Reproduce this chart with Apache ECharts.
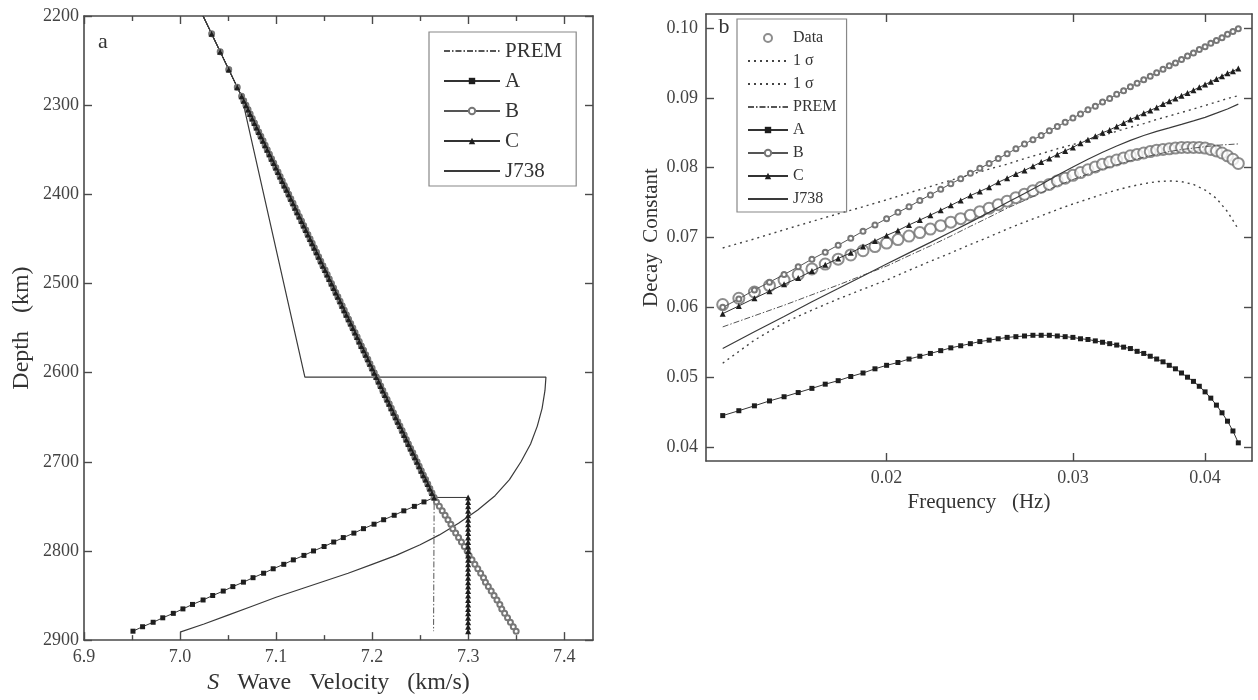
<!DOCTYPE html>
<html><head><meta charset="utf-8">
<script src="https://cdn.jsdelivr.net/npm/echarts@6/dist/echarts.min.js"></script>
<style>html,body{margin:0;padding:0;background:#fff}#c{width:1258px;height:700px}</style>
</head><body><div id="c"></div>
<script>
// ================= Panel a : S velocity vs depth =================
const velTicks = [6.9, 7.0, 7.1, 7.2, 7.3, 7.4];
const velMinorTicks = [6.95, 7.05, 7.15, 7.25, 7.35];
const topDepth = [2200, 2220, 2240, 2260, 2280];
const topVel = [7.024, 7.0329, 7.0418, 7.0507, 7.0596];
const mainDepth = [2290,2295,2300,2305,2310,2315,2320,2325,2330,2335,2340,2345,2350,2355,2360,2365,2370,2375,2380,2385,2390,2395,2400,2405,2410,2415,2420,2425,2430,2435,2440,2445,2450,2455,2460,2465,2470,2475,2480,2485,2490,2495,2500,2505,2510,2515,2520,2525,2530,2535,2540,2545,2550,2555,2560,2565,2570,2575,2580,2585,2590,2595,2600,2605,2610,2615,2620,2625,2630,2635,2640,2645,2650,2655,2660,2665,2670,2675,2680,2685,2690,2695,2700,2705,2710,2715,2720,2725,2730,2735,2740];
const mainVel = [7.0641,7.0663,7.0686,7.0708,7.0730,7.0752,7.0775,7.0797,7.0819,7.0841,7.0864,7.0886,7.0908,7.0931,7.0953,7.0975,7.0997,7.1020,7.1042,7.1064,7.1086,7.1109,7.1131,7.1153,7.1176,7.1198,7.1220,7.1242,7.1265,7.1287,7.1309,7.1331,7.1354,7.1376,7.1398,7.1421,7.1443,7.1465,7.1487,7.1510,7.1532,7.1554,7.1577,7.1599,7.1621,7.1643,7.1666,7.1688,7.1710,7.1732,7.1755,7.1777,7.1799,7.1822,7.1844,7.1866,7.1888,7.1911,7.1933,7.1955,7.1977,7.2000,7.2022,7.2044,7.2067,7.2089,7.2111,7.2133,7.2156,7.2178,7.2200,7.2222,7.2245,7.2267,7.2289,7.2312,7.2334,7.2356,7.2378,7.2401,7.2423,7.2445,7.2468,7.2490,7.2512,7.2534,7.2557,7.2579,7.2601,7.2623,7.2646];
const lowDepth = [2745,2750,2755,2760,2765,2770,2775,2780,2785,2790,2795,2800,2805,2810,2815,2820,2825,2830,2835,2840,2845,2850,2855,2860,2865,2870,2875,2880,2885,2890];
const lowA = [7.254,7.244,7.233,7.223,7.212,7.202,7.191,7.181,7.170,7.160,7.150,7.139,7.129,7.118,7.108,7.097,7.087,7.076,7.066,7.055,7.045,7.034,7.024,7.013,7.003,6.993,6.982,6.972,6.961,6.951];
const lowB = [7.267,7.270,7.273,7.276,7.279,7.282,7.284,7.287,7.290,7.293,7.296,7.299,7.301,7.304,7.307,7.310,7.313,7.316,7.318,7.321,7.324,7.327,7.330,7.333,7.335,7.338,7.341,7.344,7.347,7.350];
const cDepth = [2740,2745,2750,2755,2760,2765,2770,2775,2780,2785,2790,2795,2800,2805,2810,2815,2820,2825,2830,2835,2840,2845,2850,2855,2860,2865,2870,2875,2880,2885,2890];
const cVel = [7.300,7.300,7.300,7.300,7.300,7.300,7.300,7.300,7.300,7.300,7.300,7.300,7.300,7.300,7.300,7.300,7.300,7.300,7.300,7.300,7.300,7.300,7.300,7.300,7.300,7.300,7.300,7.300,7.300,7.300,7.300];
const premDepth = [2200, 2740, 2890];
const premVel = [7.024, 7.2646, 7.264];
const j738Depth = [2200,2290,2605,2605,2620,2640,2660,2680,2700,2720,2738,2754,2769,2782,2793,2805,2815,2825,2834,2843,2852,2862,2872,2882,2891];
const j738Vel = [7.024,7.0641,7.130,7.381,7.380,7.377,7.372,7.365,7.355,7.343,7.328,7.310,7.290,7.270,7.250,7.225,7.200,7.175,7.150,7.125,7.100,7.075,7.050,7.025,7.000];

// ================= Panel b : decay constant vs frequency =================
const freqTicks = [0.02, 0.03, 0.04];
const decayTicks = [0.04, 0.05, 0.06, 0.07, 0.08, 0.09, 0.10];
const freq = [0.0140,0.0145,0.0150,0.0155,0.0160,0.0165,0.0170,0.0175,0.0180,0.0185,0.0190,0.0195,0.0200,0.0205,0.0210,0.0215,0.0220,0.0225,0.0230,0.0235,0.0240,0.0245,0.0250,0.0255,0.0260,0.0265,0.0270,0.0275,0.0280,0.0285,0.0290,0.0295,0.0300,0.0305,0.0310,0.0315,0.0320,0.0325,0.0330,0.0335,0.0340,0.0345,0.0350,0.0355,0.0360,0.0365,0.0370,0.0375,0.0380,0.0385,0.0390,0.0395,0.0400,0.0405,0.0410,0.0415,0.0420,0.0425,0.0430];
const obsData = [0.0604,0.0613,0.0622,0.0631,0.0639,0.0647,0.0655,0.0662,0.0669,0.0675,0.0681,0.0687,0.0692,0.0697,0.0702,0.0707,0.0712,0.0717,0.0722,0.0727,0.0732,0.0737,0.0742,0.0747,0.0752,0.0757,0.0762,0.0767,0.0772,0.0776,0.0781,0.0785,0.0789,0.0793,0.0797,0.0801,0.0805,0.0808,0.0811,0.0814,0.0817,0.0819,0.0821,0.0823,0.0825,0.0826,0.0827,0.0828,0.0829,0.0829,0.0829,0.0829,0.0828,0.0826,0.0824,0.0821,0.0817,0.0812,0.0806];
const modelA = [0.0445,0.0452,0.0459,0.0466,0.0472,0.0478,0.0484,0.0490,0.0495,0.0501,0.0506,0.0512,0.0517,0.0521,0.0526,0.0530,0.0534,0.0538,0.0542,0.0545,0.0548,0.0551,0.0553,0.0555,0.0557,0.0558,0.0559,0.0560,0.0560,0.0560,0.0559,0.0558,0.0557,0.0555,0.0554,0.0552,0.0550,0.0548,0.0546,0.0543,0.0541,0.0537,0.0534,0.0530,0.0526,0.0522,0.0517,0.0512,0.0506,0.0500,0.0494,0.0487,0.0479,0.0470,0.0460,0.0449,0.0437,0.0423,0.0406];
const modelB = [0.0600,0.0612,0.0625,0.0636,0.0647,0.0658,0.0669,0.0679,0.0689,0.0699,0.0709,0.0718,0.0727,0.0736,0.0744,0.0753,0.0761,0.0769,0.0777,0.0784,0.0792,0.0799,0.0806,0.0813,0.0820,0.0827,0.0834,0.0840,0.0846,0.0853,0.0859,0.0865,0.0871,0.0877,0.0883,0.0888,0.0894,0.0899,0.0905,0.0910,0.0916,0.0921,0.0926,0.0931,0.0936,0.0941,0.0946,0.0950,0.0955,0.0960,0.0964,0.0969,0.0973,0.0978,0.0982,0.0986,0.0991,0.0995,0.0999];
const modelC = [0.0591,0.0602,0.0613,0.0623,0.0633,0.0642,0.0652,0.0661,0.0670,0.0678,0.0687,0.0695,0.0703,0.0710,0.0718,0.0725,0.0732,0.0739,0.0746,0.0753,0.0760,0.0766,0.0772,0.0779,0.0785,0.0791,0.0796,0.0802,0.0808,0.0813,0.0819,0.0824,0.0829,0.0835,0.0840,0.0845,0.0850,0.0854,0.0859,0.0864,0.0869,0.0873,0.0878,0.0882,0.0886,0.0891,0.0895,0.0899,0.0903,0.0907,0.0911,0.0915,0.0919,0.0923,0.0927,0.0931,0.0935,0.0938,0.0942];
const freqLine = [0.014,0.015,0.016,0.017,0.018,0.019,0.020,0.021,0.022,0.023,0.024,0.025,0.026,0.027,0.028,0.029,0.030,0.031,0.032,0.033,0.034,0.035,0.036,0.037,0.038,0.039,0.040,0.041,0.042,0.043];
const sigmaUpper = [0.0685,0.0698,0.0711,0.0723,0.0734,0.0744,0.0754,0.0764,0.0773,0.0782,0.0790,0.0798,0.0805,0.0813,0.0820,0.0827,0.0833,0.0840,0.0846,0.0852,0.0858,0.0863,0.0869,0.0874,0.0879,0.0884,0.0889,0.0894,0.0899,0.0903];
const sigmaLower = [0.0520,0.0553,0.0578,0.0596,0.0612,0.0626,0.0639,0.0653,0.0666,0.0678,0.0690,0.0701,0.0712,0.0722,0.0731,0.0740,0.0748,0.0755,0.0762,0.0768,0.0773,0.0777,0.0780,0.0781,0.0780,0.0776,0.0768,0.0756,0.0737,0.0712];
const premDecay = [0.0572,0.0588,0.0603,0.0618,0.0632,0.0646,0.0659,0.0674,0.0688,0.0702,0.0716,0.0729,0.0742,0.0753,0.0764,0.0774,0.0783,0.0791,0.0798,0.0804,0.0810,0.0815,0.0819,0.0823,0.0826,0.0828,0.0830,0.0832,0.0833,0.0834];
const j738Decay = [0.0541,0.0565,0.0587,0.0608,0.0627,0.0645,0.0662,0.0678,0.0693,0.0708,0.0722,0.0736,0.0750,0.0763,0.0776,0.0789,0.0801,0.0812,0.0822,0.0831,0.0839,0.0846,0.0852,0.0857,0.0862,0.0867,0.0872,0.0878,0.0884,0.0891];

// ---------------- helpers ----------------
const zip = (xs, ys) => xs.map((x, i) => [x, ys[i]]);
const SERIF = 'Liberation Serif';
const INK = '#333';
const AX = '#4a4a4a';
const NOFILL = 'rgba(0,0,0,0)';

const topPts = zip(topVel, topDepth).map((p, i) => i === 0 ? {value: p, symbol: 'none'} : p);
const mainPts = zip(mainVel, mainDepth);
const dataA = topPts.concat(mainPts, zip(lowA, lowDepth));
const dataB = topPts.concat(mainPts, zip(lowB, lowDepth));
const dataC = topPts.concat(mainPts, zip(cVel, cDepth));

const axisLineStyle = {lineStyle: {color: AX, width: 1.6}, onZero: false};
const lblStyle = {fontFamily: SERIF, fontSize: 18, color: '#444'};

function tickAxis(extra) {
  return Object.assign({
    axisLine: axisLineStyle,
    splitLine: {show: false},
    axisLabel: {show: false},
    axisTick: {show: true, inside: true, length: 8, lineStyle: {color: AX, width: 1.4}}
  }, extra);
}

const chart = echarts.init(document.getElementById('c'), null, {renderer: 'canvas'});
const option = {
  backgroundColor: '#fff',
  animation: false,
  grid: [
    {left: 84, top: 16, width: 509, height: 632},
    {left: 706, top: 14, width: 546, height: 447}
  ],
  xAxis: [
    tickAxis({gridIndex: 0, type: 'value', position: 'bottom', min: 6.9, max: 7.43,
      axisTick: {show: true, inside: true, length: 8, customValues: velTicks, lineStyle: {color: AX, width: 1.4}},
      axisLabel: {show: true, customValues: velTicks, formatter: v => v.toFixed(1), margin: 8, ...lblStyle},
      name: '{i|S}   Wave   Velocity   (km/s)', nameLocation: 'middle', nameGap: 27,
      nameTextStyle: {fontFamily: SERIF, fontSize: 24, color: INK, rich: {i: {fontFamily: SERIF, fontSize: 24, fontStyle: 'italic', color: INK}}}}),
    tickAxis({gridIndex: 0, type: 'value', position: 'bottom', min: 6.9, max: 7.43, axisLine: {show: false},
      axisTick: {show: true, inside: true, length: 5, customValues: velMinorTicks, lineStyle: {color: AX, width: 1.4}}}),
    tickAxis({gridIndex: 0, type: 'value', position: 'top', min: 6.9, max: 7.43,
      axisTick: {show: true, inside: true, length: 8, customValues: velTicks, lineStyle: {color: AX, width: 1.4}}}),
    tickAxis({gridIndex: 0, type: 'value', position: 'top', min: 6.9, max: 7.43, axisLine: {show: false},
      axisTick: {show: true, inside: true, length: 5, customValues: velMinorTicks, lineStyle: {color: AX, width: 1.4}}}),
    tickAxis({gridIndex: 1, type: 'log', position: 'bottom', min: 0.0135, max: 0.0443,
      axisTick: {show: true, inside: true, length: 8, customValues: freqTicks, lineStyle: {color: AX, width: 1.4}},
      axisLabel: {show: true, customValues: freqTicks, formatter: v => Number(v).toFixed(2), margin: 8, ...lblStyle},
      name: 'Frequency   (Hz)', nameLocation: 'middle', nameGap: 26,
      nameTextStyle: {fontFamily: SERIF, fontSize: 21, color: INK}}),
    tickAxis({gridIndex: 1, type: 'log', position: 'top', min: 0.0135, max: 0.0443,
      axisTick: {show: true, inside: true, length: 8, customValues: freqTicks, lineStyle: {color: AX, width: 1.4}}})
  ],
  yAxis: [
    tickAxis({gridIndex: 0, type: 'value', position: 'left', inverse: true, min: 2200, max: 2900, interval: 100,
      axisLabel: {show: true, margin: 5, formatter: v => String(v), ...lblStyle},
      name: 'Depth   (km)', nameLocation: 'middle', nameGap: 50,
      nameTextStyle: {fontFamily: SERIF, fontSize: 24, color: INK}}),
    tickAxis({gridIndex: 0, type: 'value', position: 'right', inverse: true, min: 2200, max: 2900, interval: 100}),
    tickAxis({gridIndex: 1, type: 'value', position: 'left', min: 0.038, max: 0.102,
      axisTick: {show: true, inside: true, length: 8, customValues: decayTicks, lineStyle: {color: AX, width: 1.4}},
      axisLabel: {show: true, customValues: decayTicks, formatter: v => v.toFixed(2), margin: 8, ...lblStyle},
      name: 'Decay  Constant', nameLocation: 'middle', nameGap: 44,
      nameTextStyle: {fontFamily: SERIF, fontSize: 21, color: INK}}),
    tickAxis({gridIndex: 1, type: 'value', position: 'right', min: 0.038, max: 0.102,
      axisTick: {show: true, inside: true, length: 8, customValues: decayTicks, lineStyle: {color: AX, width: 1.4}}})
  ],
  legend: [
    {orient: 'vertical', left: 429, top: 32, selectedMode: false,
     data: ['PREM', 'A', 'B', 'C', 'J738'],
     itemWidth: 56, itemHeight: 8, itemGap: 8, padding: [8, 14, 4, 14],
     borderColor: '#888', borderWidth: 1.2,
     textStyle: {fontFamily: SERIF, fontSize: 21, color: INK, lineHeight: 22}},
    {orient: 'vertical', left: 737, top: 19, selectedMode: false,
     data: ['Data', '1 σ', '1 σ ', 'PREM', 'A', 'B', 'C', 'J738'],
     itemWidth: 40, itemHeight: 8, itemGap: 5, padding: [10, 10, 4, 10],
     borderColor: '#888', borderWidth: 1.2,
     textStyle: {fontFamily: SERIF, fontSize: 16, color: INK, lineHeight: 18}}
  ],
  graphic: [
    {type: 'text', style: {x: 103, y: 42, text: 'a', align: 'center', verticalAlign: 'middle', font: '22px "Liberation Serif"', fill: INK}},
    {type: 'text', style: {x: 724, y: 27, text: 'b', align: 'center', verticalAlign: 'middle', font: '22px "Liberation Serif"', fill: INK}}
  ],
  series: [
    // ---- panel a ----
    {name: 'PREM', type: 'line', xAxisIndex: 0, yAxisIndex: 0, symbol: 'none',
     data: zip(premVel, premDepth), itemStyle: {color: NOFILL}, lineStyle: {color: '#555', width: 1, type: [6, 2, 1.5, 2]}},
    {name: 'A', type: 'line', xAxisIndex: 0, yAxisIndex: 0, symbol: 'rect', symbolSize: 5,
     data: dataA, itemStyle: {color: '#1e1e1e'}, lineStyle: {color: '#333', width: 1}},
    {name: 'B', type: 'line', xAxisIndex: 0, yAxisIndex: 0, symbol: 'emptyCircle', symbolSize: 5,
     data: dataB, itemStyle: {color: '#777', borderWidth: 1}, lineStyle: {color: '#555', width: 1}},
    {name: 'C', type: 'line', xAxisIndex: 0, yAxisIndex: 0, symbol: 'triangle', symbolSize: 6,
     data: dataC, itemStyle: {color: '#1e1e1e'}, lineStyle: {color: '#333', width: 1}},
    {name: 'J738', type: 'line', xAxisIndex: 0, yAxisIndex: 0, symbol: 'none',
     data: zip(j738Vel, j738Depth), itemStyle: {color: NOFILL}, lineStyle: {color: '#3a3a3a', width: 1.2}},
    // ---- panel b ----
    {name: 'Data', type: 'scatter', xAxisIndex: 4, yAxisIndex: 2, symbol: 'emptyCircle', symbolSize: 11,
     data: zip(freq, obsData), itemStyle: {color: '#707070', borderWidth: 1.1}},
    {name: '1 σ', type: 'line', xAxisIndex: 4, yAxisIndex: 2, symbol: 'none',
     data: zip(freqLine, sigmaUpper), itemStyle: {color: NOFILL}, lineStyle: {color: '#444', width: 1.4, type: [2, 4]}},
    {name: '1 σ ', type: 'line', xAxisIndex: 4, yAxisIndex: 2, symbol: 'none',
     data: zip(freqLine, sigmaLower), itemStyle: {color: NOFILL}, lineStyle: {color: '#444', width: 1.4, type: [2, 4]}},
    {name: 'PREM', type: 'line', xAxisIndex: 4, yAxisIndex: 2, symbol: 'none',
     data: zip(freqLine, premDecay), itemStyle: {color: NOFILL}, lineStyle: {color: '#555', width: 1, type: [6, 2, 1.5, 2]}},
    {name: 'A', type: 'line', xAxisIndex: 4, yAxisIndex: 2, symbol: 'rect', symbolSize: 5,
     data: zip(freq, modelA), itemStyle: {color: '#1e1e1e'}, lineStyle: {color: '#333', width: 1}},
    {name: 'B', type: 'line', xAxisIndex: 4, yAxisIndex: 2, symbol: 'emptyCircle', symbolSize: 5,
     data: zip(freq, modelB), itemStyle: {color: '#777', borderWidth: 1}, lineStyle: {color: '#555', width: 1}},
    {name: 'C', type: 'line', xAxisIndex: 4, yAxisIndex: 2, symbol: 'triangle', symbolSize: 6,
     data: zip(freq, modelC), itemStyle: {color: '#1e1e1e'}, lineStyle: {color: '#333', width: 1}},
    {name: 'J738', type: 'line', xAxisIndex: 4, yAxisIndex: 2, symbol: 'none',
     data: zip(freqLine, j738Decay), itemStyle: {color: NOFILL}, lineStyle: {color: '#3a3a3a', width: 1.2}}
  ]
};
chart.setOption(option);
</script>
</body></html>
